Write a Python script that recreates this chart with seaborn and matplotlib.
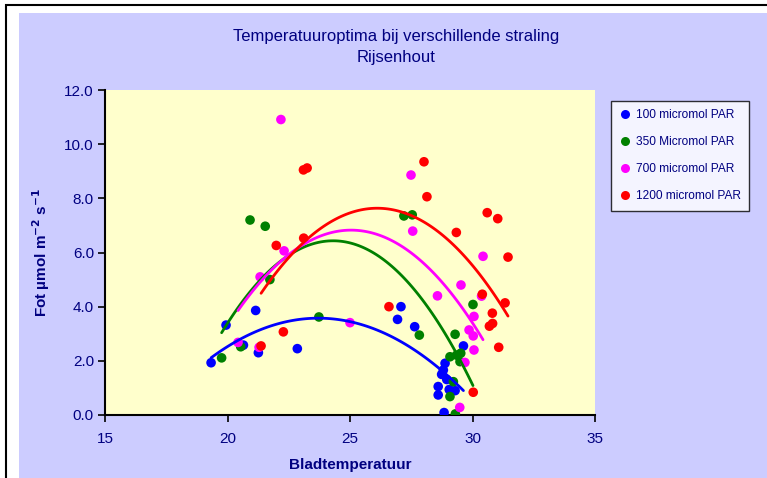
import numpy as np
import pandas as pd
import matplotlib
matplotlib.use("Agg")
import matplotlib.pyplot as plt
from matplotlib.patches import Rectangle
from matplotlib.lines import Line2D
import seaborn as sns

# ---- data ----
labels = ["100 micromol PAR", "350 Micromol PAR", "700 micromol PAR", "1200 micromol PAR"]
colors = ["#0000FF", "#008000", "#FF00FF", "#FF0000"]

x100 = [19.33, 19.94, 21.15, 20.65, 21.26, 22.85, 27.08, 26.94, 27.64, 29.63,
        28.88, 28.81, 28.74, 28.95, 28.60, 28.60, 29.05, 29.29, 28.84]
y100 = [1.93, 3.32, 3.86, 2.58, 2.30, 2.45, 4.00, 3.53, 3.26, 2.55,
        1.91, 1.66, 1.50, 1.31, 1.05, 0.74, 0.94, 0.90, 0.09]

x350 = [19.76, 20.54, 20.92, 21.54, 21.73, 23.73, 27.20, 27.54, 27.83, 30.02,
        29.29, 29.08, 29.35, 29.52, 29.49, 29.22, 29.08, 29.30]
y350 = [2.11, 2.52, 7.20, 6.97, 5.00, 3.62, 7.35, 7.39, 2.95, 4.08,
        2.98, 2.15, 2.21, 2.28, 1.97, 1.23, 0.68, 0.04]

x700 = [20.43, 21.29, 21.33, 22.18, 22.31, 25.00, 27.49, 27.56, 28.57, 29.53,
        30.43, 30.37, 30.06, 29.86, 30.03, 30.06, 29.69, 29.48]
y700 = [2.68, 2.50, 5.10, 10.91, 6.06, 3.41, 8.86, 6.79, 4.40, 4.80,
        5.86, 4.39, 3.64, 3.14, 2.92, 2.40, 1.94, 0.28]

x1200 = [21.37, 22.28, 21.99, 23.11, 23.10, 23.25, 26.59, 28.02, 28.14, 29.34,
         30.60, 31.03, 31.45, 30.40, 31.33, 30.81, 30.82, 30.69, 31.07, 30.03]
y1200 = [2.55, 3.07, 6.26, 6.53, 9.05, 9.12, 4.00, 9.35, 8.06, 6.74,
         7.47, 7.25, 5.83, 4.46, 4.14, 3.76, 3.38, 3.28, 2.50, 0.84]

xs = [x100, x350, x700, x1200]
ys = [y100, y350, y700, y1200]

x_ticks = [15, 20, 25, 30, 35]
y_ticks = [0, 2, 4, 6, 8, 10, 12]

navy = "#000080"

frames = []
for lab, xx, yy in zip(labels, xs, ys):
    frames.append(pd.DataFrame({"x": xx, "y": yy, "serie": lab}))
df = pd.concat(frames, ignore_index=True)

sns.set_style("white")
plt.rcParams["font.family"] = ["Liberation Sans", "DejaVu Sans"]

fig = plt.figure(figsize=(7.67, 4.78), dpi=100)
fig.patch.set_facecolor("white")
W, H = 767, 478
# outer black frame and lavender chart area
fig.patches.append(Rectangle((6 / W, -1), 2, 2 - 5 / H, transform=fig.transFigure,
                             facecolor="none", edgecolor="black", linewidth=1.5, zorder=-2))
fig.patches.append(Rectangle((19 / W, -1), 2, 2 - 13 / H, transform=fig.transFigure,
                             facecolor="#CCCCFF", edgecolor="none", zorder=-1))

ax = fig.add_axes([105 / W, 1 - 415 / H, (595 - 105) / W, (415 - 90) / H])
ax.set_facecolor("#FFFFCC")
ax.set_zorder(1)

palette = dict(zip(labels, colors))
sns.scatterplot(data=df, x="x", y="y", hue="serie", palette=palette, ax=ax,
                s=48, edgecolor="none", legend=False, zorder=3)

for lab, col in zip(labels, colors):
    sub = df[df["serie"] == lab]
    sns.regplot(data=sub, x="x", y="y", order=2, ci=None, scatter=False,
                truncate=True, ax=ax, color=col, line_kws={"linewidth": 2.0, "zorder": 4})

ax.set_xlim(15, 35)
ax.set_ylim(0, 12)
ax.set_xticks(x_ticks)
ax.set_yticks(y_ticks)
ax.set_yticklabels([f"{v:.1f}" for v in y_ticks])
ax.tick_params(axis="both", which="major", bottom=True, left=True, direction="out",
               length=5, width=1.2, color="black", labelcolor=navy, labelsize=11, pad=3)
ax.tick_params(axis="x", pad=7)
for s in ["top", "right"]:
    ax.spines[s].set_visible(False)
for s in ["left", "bottom"]:
    ax.spines[s].set_color("black")
    ax.spines[s].set_linewidth(1.5)

ax.set_xlabel("Bladtemperatuur", color=navy, fontweight="bold", fontsize=11, labelpad=9)
ax.set_ylabel("Fot µmol m$^{\\mathbf{-2}}$ s$^{\\mathbf{-1}}$", color=navy, fontweight="bold",
              fontsize=11, labelpad=9)

fig.text(396 / W, 1 - 37 / H, "Temperatuuroptima bij verschillende straling",
         ha="center", va="center", color=navy, fontsize=12)
fig.text(396 / W, 1 - 57 / H, "Rijsenhout", ha="center", va="center", color=navy, fontsize=12)

handles = [Line2D([], [], marker="o", linestyle="none", markersize=6.5,
                  markerfacecolor=c, markeredgecolor="none") for c in colors]
leg = fig.legend(handles, labels, loc="upper left", bbox_to_anchor=(611 / W, 1 - 101 / H),
                 frameon=True, fancybox=False, fontsize=8.6, labelspacing=1.25,
                 handletextpad=0.4, handlelength=1.0, borderpad=0.7, borderaxespad=0)
leg.get_frame().set_edgecolor("black")
leg.get_frame().set_linewidth(1.0)
leg.get_frame().set_facecolor("white")
for t in leg.get_texts():
    t.set_color(navy)

fig.savefig("out.png", dpi=100)
